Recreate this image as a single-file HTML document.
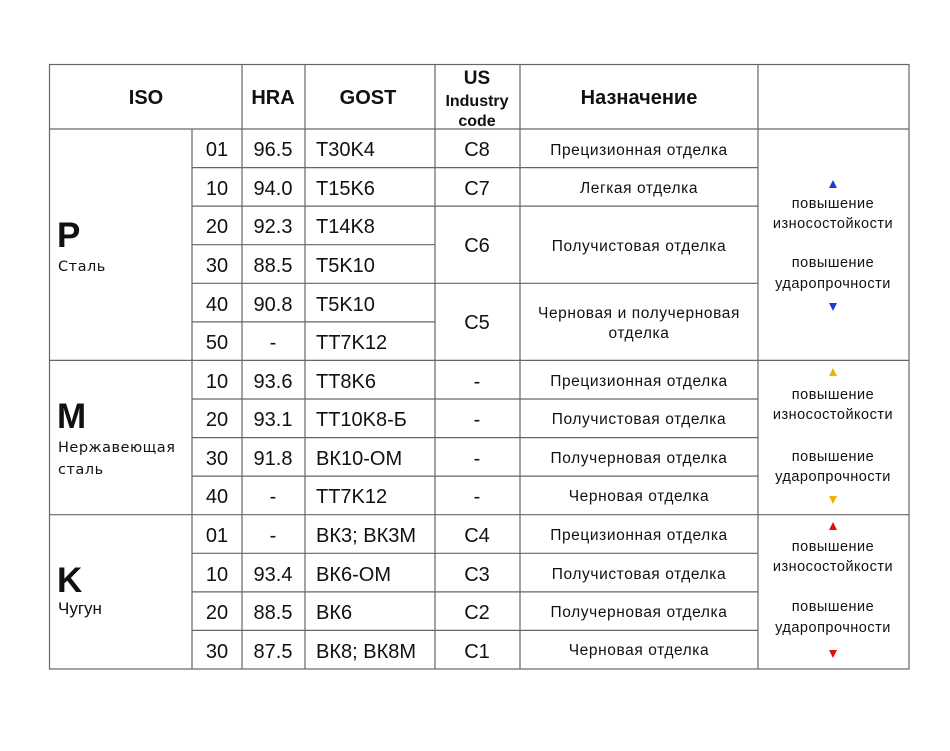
<!DOCTYPE html>
<html><head><meta charset="utf-8"><style>
html,body{margin:0;padding:0;background:#fff;width:950px;height:751px;overflow:hidden}
svg{display:block}
text{font-family:"Liberation Sans","DejaVu Sans",sans-serif;fill:#111}
.h{font-weight:bold;font-size:20px}
.n{font-size:20px}
.d{font-size:15.5px;letter-spacing:0.6px;font-family:"DejaVu Sans","Liberation Sans",sans-serif}
.s{font-size:14.5px;letter-spacing:0.5px;font-family:"DejaVu Sans","Liberation Sans",sans-serif}
</style></head><body>
<svg width="950" height="751" xmlns="http://www.w3.org/2000/svg">
<g stroke="#666" stroke-width="1.2" fill="none">
<rect x="49.5" y="64.5" width="859.5" height="604.5"/>
<line x1="192" y1="129" x2="192" y2="669"/>
<line x1="242" y1="64" x2="242" y2="669"/>
<line x1="305" y1="64" x2="305" y2="669"/>
<line x1="435" y1="64" x2="435" y2="669"/>
<line x1="520" y1="64" x2="520" y2="669"/>
<line x1="758" y1="64" x2="758" y2="669"/>
<line x1="49" y1="129" x2="909" y2="129"/>
<line x1="49" y1="360.4" x2="909" y2="360.4"/>
<line x1="49" y1="514.7" x2="909" y2="514.7"/>
<line x1="192" y1="167.6" x2="758" y2="167.6"/>
<line x1="192" y1="206.1" x2="758" y2="206.1"/>
<line x1="192" y1="244.7" x2="435" y2="244.7"/>
<line x1="192" y1="283.3" x2="758" y2="283.3"/>
<line x1="192" y1="321.9" x2="435" y2="321.9"/>
<line x1="192" y1="399" x2="758" y2="399"/>
<line x1="192" y1="437.6" x2="758" y2="437.6"/>
<line x1="192" y1="476.1" x2="758" y2="476.1"/>
<line x1="192" y1="553.3" x2="758" y2="553.3"/>
<line x1="192" y1="591.9" x2="758" y2="591.9"/>
<line x1="192" y1="630.4" x2="758" y2="630.4"/>
</g>
<g text-anchor="middle">
<text class="h" x="146" y="104">ISO</text>
<text class="h" x="273" y="104">HRA</text>
<text class="h" x="368" y="104">GOST</text>
<text x="477" y="84" style="font-weight:bold;font-size:19px">US</text>
<text x="477" y="106" style="font-weight:bold;font-size:16px">Industry</text>
<text x="477" y="126" style="font-weight:bold;font-size:16px">code</text>
<text class="h" x="639" y="104">Назначение</text>
</g>
<g class="n" text-anchor="middle">
<text x="217" y="156">01</text><text x="273" y="156">96.5</text>
<text x="217" y="195">10</text><text x="273" y="195">94.0</text>
<text x="217" y="233">20</text><text x="273" y="233">92.3</text>
<text x="217" y="272">30</text><text x="273" y="272">88.5</text>
<text x="217" y="311">40</text><text x="273" y="311">90.8</text>
<text x="217" y="349">50</text><text x="273" y="349">-</text>
<text x="217" y="388">10</text><text x="273" y="388">93.6</text>
<text x="217" y="426">20</text><text x="273" y="426">93.1</text>
<text x="217" y="465">30</text><text x="273" y="465">91.8</text>
<text x="217" y="503">40</text><text x="273" y="503">-</text>
<text x="217" y="542">01</text><text x="273" y="542">-</text>
<text x="217" y="581">10</text><text x="273" y="581">93.4</text>
<text x="217" y="619">20</text><text x="273" y="619">88.5</text>
<text x="217" y="658">30</text><text x="273" y="658">87.5</text>
<text x="477" y="156">C8</text>
<text x="477" y="195">C7</text>
<text x="477" y="252">C6</text>
<text x="477" y="329">C5</text>
<text x="477" y="388">-</text>
<text x="477" y="426">-</text>
<text x="477" y="465">-</text>
<text x="477" y="503">-</text>
<text x="477" y="542">C4</text>
<text x="477" y="581">C3</text>
<text x="477" y="619">C2</text>
<text x="477" y="658">C1</text>
</g>
<g class="n">
<text x="316" y="156">T30K4</text>
<text x="316" y="195">T15K6</text>
<text x="316" y="233">T14K8</text>
<text x="316" y="272">T5K10</text>
<text x="316" y="311">T5K10</text>
<text x="316" y="349">TT7K12</text>
<text x="316" y="388">TT8K6</text>
<text x="316" y="426">TT10K8-Б</text>
<text x="316" y="465">ВК10-ОМ</text>
<text x="316" y="503">TT7K12</text>
<text x="316" y="542">ВК3; ВК3М</text>
<text x="316" y="581">ВК6-ОМ</text>
<text x="316" y="619">ВК6</text>
<text x="316" y="658">ВК8; ВК8М</text>
</g>
<g class="d" text-anchor="middle">
<text x="639" y="155">Прецизионная отделка</text>
<text x="639" y="193">Легкая отделка</text>
<text x="639" y="251">Получистовая отделка</text>
<text x="639" y="318">Черновая и получерновая</text>
<text x="639" y="338">отделка</text>
<text x="639" y="386">Прецизионная отделка</text>
<text x="639" y="424">Получистовая отделка</text>
<text x="639" y="463">Получерновая отделка</text>
<text x="639" y="501">Черновая отделка</text>
<text x="639" y="540">Прецизионная отделка</text>
<text x="639" y="579">Получистовая отделка</text>
<text x="639" y="617">Получерновая отделка</text>
<text x="639" y="655">Черновая отделка</text>
</g>
<text x="57" y="247" style="font-weight:bold;font-size:35px">P</text>
<text class="s" x="58" y="271">Сталь</text>
<text x="57" y="428" style="font-weight:bold;font-size:35px">M</text>
<text class="s" x="58" y="452">Нержавеющая</text>
<text class="s" x="58" y="474">сталь</text>
<text x="57" y="592" style="font-weight:bold;font-size:35px">K</text>
<text x="58" y="614" style="font-size:17px">Чугун</text>
<g class="s" text-anchor="middle">
<text x="833" y="208">повышение</text><text x="833" y="228">износостойкости</text>
<text x="833" y="267">повышение</text><text x="833" y="288">ударопрочности</text>
<text x="833" y="399">повышение</text><text x="833" y="419">износостойкости</text>
<text x="833" y="461">повышение</text><text x="833" y="481">ударопрочности</text>
<text x="833" y="551">повышение</text><text x="833" y="571">износостойкости</text>
<text x="833" y="611">повышение</text><text x="833" y="632">ударопрочности</text>
</g>
<polygon points="829,188 837,188 833,180" fill="#1a3fd0"/>
<polygon points="829,303 837,303 833,311" fill="#1a3fd0"/>
<polygon points="829,376 837,376 833,368" fill="#f0b400"/>
<polygon points="829,496 837,496 833,504" fill="#f0b400"/>
<polygon points="829,530 837,530 833,522" fill="#e01010"/>
<polygon points="829,650 837,650 833,658" fill="#e01010"/>
</svg>
</body></html>
